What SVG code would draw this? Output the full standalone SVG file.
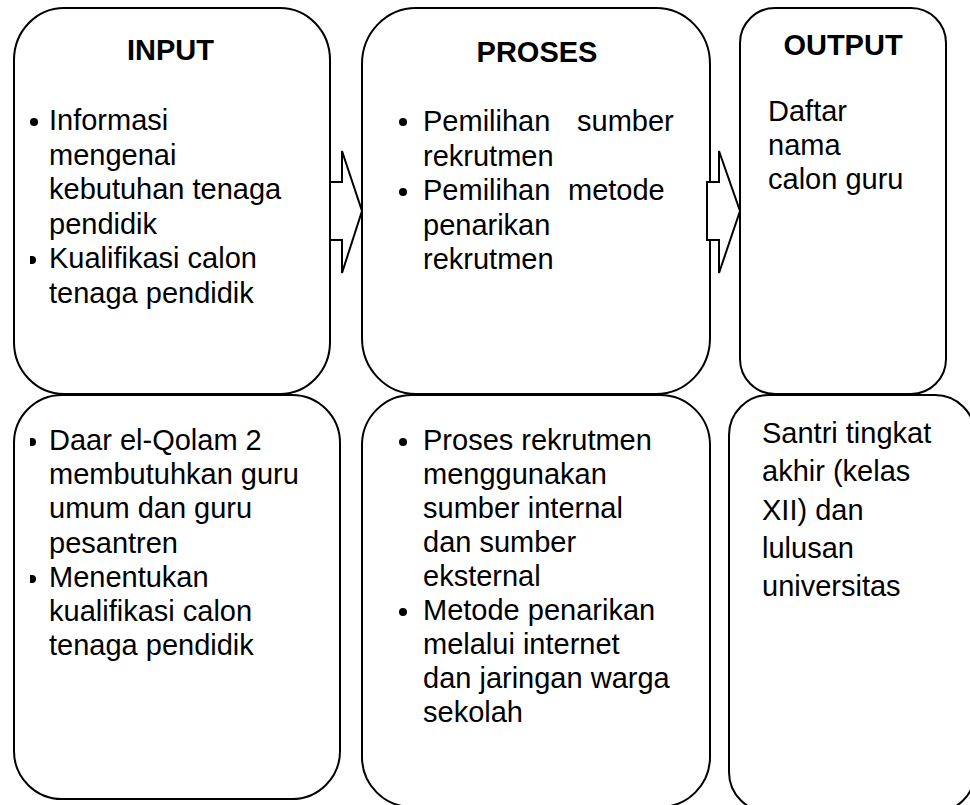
<svg xmlns="http://www.w3.org/2000/svg" width="970" height="805" viewBox="0 0 970 805">
<style>
.box{fill:#fff;stroke:#000;stroke-width:2}
.arr{fill:#fff;stroke:#000;stroke-width:2;stroke-linejoin:miter}
text{font-family:"Liberation Sans",Arial,sans-serif;font-size:29px;fill:#000}
.t{font-weight:bold;text-anchor:middle}
.b{fill:#000}
</style>
<rect width="970" height="805" fill="#fff"/>
<g id="input">
<rect class="box" x="14" y="8" width="316" height="386" rx="50" ry="52"/>
<text class="t" x="170.5" y="60">INPUT</text>
<circle class="b" cx="34" cy="122" r="4"/>
<path class="b" d="M30,256 h2 a4,4 0 0 1 0,8 h-2 z"/>
<text x="49" y="130">Informasi</text>
<text x="49" y="164.5">mengenai</text>
<text x="49" y="199">kebutuhan tenaga</text>
<text x="49" y="233.5">pendidik</text>
<text x="49" y="268">Kualifikasi calon</text>
<text x="49" y="302.5">tenaga pendidik</text>
</g>
<g id="proses">
<rect class="box" x="362" y="8" width="348" height="386" rx="54" ry="56"/>
<text class="t" x="537" y="62">PROSES</text>
<circle class="b" cx="403" cy="122" r="4"/>
<circle class="b" cx="403" cy="192" r="4"/>
<text x="423" y="131">Pemilihan</text>
<text x="577" y="131">sumber</text>
<text x="423" y="165.5">rekrutmen</text>
<text x="423" y="200">Pemilihan</text>
<text x="568" y="200">metode</text>
<text x="423" y="234.5">penarikan</text>
<text x="423" y="269">rekrutmen</text>
</g>
<g id="output">
<rect class="box" x="740" y="8" width="206" height="386" rx="35" ry="35"/>
<text class="t" x="843" y="55">OUTPUT</text>
<text x="768" y="121">Daftar</text>
<text x="768" y="155">nama</text>
<text x="768" y="189">calon guru</text>
</g>
<g id="input-detail">
<rect class="box" x="14" y="395" width="326" height="404" rx="48" ry="48"/>
<path class="b" d="M30,438 h2 a4,4 0 0 1 0,8 h-2 z"/>
<path class="b" d="M30,575 h2 a4,4 0 0 1 0,8 h-2 z"/>
<text x="49" y="450">Daar el-Qolam 2</text>
<text x="49" y="484.2">membutuhkan guru</text>
<text x="49" y="518.4">umum dan guru</text>
<text x="49" y="552.6">pesantren</text>
<text x="49" y="586.8">Menentukan</text>
<text x="49" y="621">kualifikasi calon</text>
<text x="49" y="655.2">tenaga pendidik</text>
</g>
<g id="proses-detail">
<rect class="box" x="362" y="395" width="348" height="412" rx="50" ry="50"/>
<circle class="b" cx="403" cy="442" r="4"/>
<circle class="b" cx="403" cy="612" r="4"/>
<text x="423" y="450">Proses rekrutmen</text>
<text x="423" y="484">menggunakan</text>
<text x="423" y="518">sumber internal</text>
<text x="423" y="552">dan sumber</text>
<text x="423" y="586">eksternal</text>
<text x="423" y="620">Metode penarikan</text>
<text x="423" y="654">melalui internet</text>
<text x="423" y="688">dan jaringan warga</text>
<text x="423" y="722">sekolah</text>
</g>
<g id="output-detail">
<rect class="box" x="729" y="395" width="246" height="417" rx="40" ry="40"/>
<text x="762" y="443">Santri tingkat</text>
<text x="762" y="481.3">akhir (kelas</text>
<text x="762" y="519.6">XII) dan</text>
<text x="762" y="558">lulusan</text>
<text x="762" y="596">universitas</text>
</g>
<g id="connectors">
<polygon class="arr" points="330,182 342,182 342,151 362,211 342,273 342,240 330,240"/>
<polygon class="arr" points="707,182 719,182 719,151 740,211 719,273 719,240 707,240"/>
</g>
</svg>
